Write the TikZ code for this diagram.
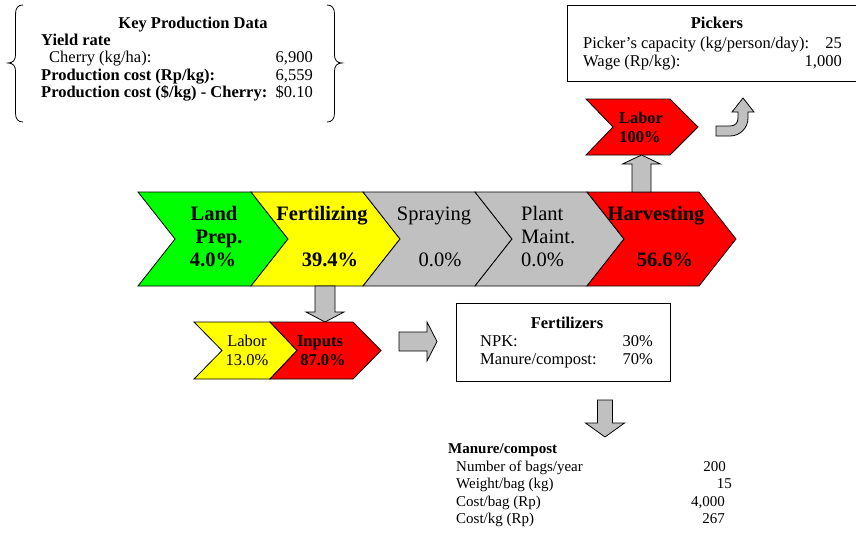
\documentclass[tikz,border=0pt]{standalone}
\usepackage{fontspec}
\setmainfont{Liberation Serif}
\definecolor{chgreen}{RGB}{0,255,0}
\definecolor{chyellow}{RGB}{255,255,0}
\definecolor{chred}{RGB}{255,0,0}
\definecolor{chgray}{RGB}{192,192,192}
\newcommand\fbig{\fontsize{20.5}{22}\selectfont}
\newcommand\fmid{\fontsize{16.5}{18}\selectfont}
\newcommand\fsml{\fontsize{15}{17}\selectfont}
\begin{document}
\begin{tikzpicture}[x=1pt,y=-1pt,
  chev/.style={draw=black,line width=0.8pt,line join=miter},
  blockarrow/.style={draw=black,line width=0.8pt,fill=chgray,line join=miter},
  databox/.style={draw=black,line width=1pt},
  txt/.style={inner sep=0pt,anchor=base},
  txtl/.style={inner sep=0pt,anchor=base west},
  txtr/.style={inner sep=0pt,anchor=base east}]
\useasboundingbox (0,0) rectangle (856,535);

% ---------- key production data (braced block) ----------
\draw[line width=0.8pt] (23,5) .. controls (18,5) and (15.5,8) .. (15.5,14) -- (15.5,55)
  .. controls (15.5,60) and (13,63) .. (8,63) .. controls (13,63) and (15.5,66) .. (15.5,71)
  -- (15.5,113) .. controls (15.5,119) and (18,122) .. (23,122);
\draw[line width=0.8pt] (327,5) .. controls (332,5) and (334.5,8) .. (334.5,14) -- (334.5,55)
  .. controls (334.5,60) and (337,63) .. (342,63) .. controls (337,63) and (334.5,66) .. (334.5,71)
  -- (334.5,113) .. controls (334.5,119) and (332,122) .. (327,122);
\node[txt]  (kpd)  at (193,29) {\fmid\bfseries Key Production Data};
\node[txtl] (yr)   at (41,46)  {\fmid\bfseries Yield rate};
\node[txtl] (ch)   at (49,63)  {\fmid Cherry (kg/ha):};
\node[txtr] (chv)  at (313,63) {\fmid 6,900};
\node[txtl] (pc)   at (41,80)  {\fmid\bfseries Production cost (Rp/kg):};
\node[txtr] (pcv)  at (313,80) {\fmid 6,559};
\node[txtl] (pcd)  at (41,97)  {\fmid\bfseries Production cost (\$/kg) - Cherry:};
\node[txtr] (pcdv) at (313,97) {\fmid \$0.10};

% ---------- pickers box ----------
\draw[databox] (567,6) rectangle (866,81);
\node[txt]  (pk)   at (717,29)   {\fmid\bfseries Pickers};
\node[txtl] (pkc)  at (583,48.5) {\fmid Picker’s capacity (kg/person/day):};
\node[txtr] (pkcv) at (842,48.5) {\fmid 25};
\node[txtl] (pkw)  at (583,66.5) {\fmid Wage (Rp/kg):};
\node[txtr] (pkwv) at (842,66.5) {\fmid 1,000};

% ---------- main value chain ----------
\draw[chev,fill=chgreen]  (138,192) -- (251,192) -- (288,239) -- (251,286) -- (138,286) -- (175,239) -- cycle;
\draw[chev,fill=chyellow] (251,192) -- (363,192) -- (400,239) -- (363,286) -- (251,286) -- (288,239) -- cycle;
\draw[chev,fill=chgray]   (363,192) -- (475,192) -- (512,239) -- (475,286) -- (363,286) -- (400,239) -- cycle;
\draw[chev,fill=chgray]   (475,192) -- (587,192) -- (624,239) -- (587,286) -- (475,286) -- (512,239) -- cycle;
\draw[chev,fill=chred]    (587,192) -- (699,192) -- (736,239) -- (699,286) -- (587,286) -- (624,239) -- cycle;

\node[txt] (lp1) at (214,220)   {\fbig\bfseries Land};
\node[txt] (lp2) at (219,243.5) {\fbig\bfseries Prep.};
\node[txt] (lp3) at (213,266)   {\fbig\bfseries 4.0\%};
\node[txt] (fe1) at (322,220)   {\fbig\bfseries Fertilizing};
\node[txt] (fe2) at (330,266)   {\fbig\bfseries 39.4\%};
\node[txt] (sp1) at (434,220)   {\fbig Spraying};
\node[txt] (sp2) at (440,266)   {\fbig 0.0\%};
\node[txtl] (pm1) at (521,220)   {\fbig Plant};
\node[txtl] (pm2) at (521,243.5) {\fbig Maint.};
\node[txtl] (pm3) at (521,266)   {\fbig 0.0\%};
\node[txt] (hv1) at (656,220)   {\fbig\bfseries Harvesting};
\node[txt] (hv2) at (665,266)   {\fbig\bfseries 56.6\%};

% ---------- harvesting labor ----------
\draw[chev,fill=chred] (586,99) -- (670,99) -- (698,127) -- (670,155) -- (586,155) -- (613,127) -- cycle;
\node[txt] (hl1) at (641,123.5) {\fmid\bfseries Labor};
\node[txt] (hl2) at (640,142.5) {\fmid\bfseries 100\%};
\coordinate (hvtop) at (641.5,192);
\coordinate (hlbot) at (641.5,155);
\draw[blockarrow] ([shift={(-9.5,0)}]hvtop) -- ([shift={(-9.5,-28)}]hvtop) -- ([shift={(-19,-28)}]hvtop)
  -- (hlbot) -- ([shift={(19,-28)}]hvtop) -- ([shift={(9.5,-28)}]hvtop) -- ([shift={(9.5,0)}]hvtop) -- cycle;

% turn-up arrow towards the pickers box
\draw[blockarrow] (716,126) -- (730,126) .. controls (735,126) and (738,123) .. (738,118) -- (738,112) -- (732,112)
  -- (743,98) -- (754,112) -- (748,112) -- (748,118) .. controls (748,128) and (740,136) .. (730,136) -- (716,136) -- cycle;

% ---------- fertilizing breakdown ----------
\coordinate (fetop) at (325,286);
\coordinate (inptop) at (325,322);
\draw[blockarrow] ([shift={(-10,0)}]fetop) -- ([shift={(-10,26)}]fetop) -- ([shift={(-19,26)}]fetop)
  -- (inptop) -- ([shift={(19,26)}]fetop) -- ([shift={(10,26)}]fetop) -- ([shift={(10,0)}]fetop) -- cycle;

\draw[chev,fill=chyellow] (194,322) -- (270,322) -- (297,350.5) -- (270,379) -- (194,379) -- (222,350.5) -- cycle;
\draw[chev,fill=chred]    (270,322) -- (353,322) -- (381,350.5) -- (353,379) -- (270,379) -- (297,350.5) -- cycle;
\node[txt] (fl1) at (247,346.5) {\fmid Labor};
\node[txt] (fl2) at (247,365)   {\fmid 13.0\%};
\node[txt] (fi1) at (320,346.5) {\fmid\bfseries Inputs};
\node[txt] (fi2) at (323,365)   {\fmid\bfseries 87.0\%};

\coordinate (rastart) at (399,341.5);
\coordinate (ratip) at (437,341.5);
\draw[blockarrow] ([shift={(0,-9.5)}]rastart) -- ([shift={(28,-9.5)}]rastart) -- ([shift={(28,-19.5)}]rastart)
  -- (ratip) -- ([shift={(28,19.5)}]rastart) -- ([shift={(28,9.5)}]rastart) -- ([shift={(0,9.5)}]rastart) -- cycle;

% ---------- fertilizers box ----------
\draw[databox] (456,303) rectangle (670,381);
\node[txt]  (fz)   at (567,328.5) {\fmid\bfseries Fertilizers};
\node[txtl] (npk)  at (480,346.5) {\fmid NPK:};
\node[txtr] (npkv) at (653,346.5) {\fmid 30\%};
\node[txtl] (mc)   at (480,364.5) {\fmid Manure/compost:};
\node[txtr] (mcv)  at (653,364.5) {\fmid 70\%};

\coordinate (fzbot) at (605,400);
\coordinate (mtop) at (605,437);
\draw[blockarrow] ([shift={(-7.5,0)}]fzbot) -- ([shift={(-7.5,23)}]fzbot) -- ([shift={(-19.5,23)}]fzbot)
  -- (mtop) -- ([shift={(19.5,23)}]fzbot) -- ([shift={(7.5,23)}]fzbot) -- ([shift={(7.5,0)}]fzbot) -- cycle;

% ---------- manure / compost table ----------
\node[txtl] (mt)  at (448,453.5) {\fsml\bfseries Manure/compost};
\node[txtl] (m1)  at (456,471)   {\fsml Number of bags/year};
\node[txtr] (m1v) at (726,471)   {\fsml 200};
\node[txtl] (m2)  at (456,488.5) {\fsml Weight/bag (kg)};
\node[txtr] (m2v) at (732,488.5) {\fsml 15};
\node[txtl] (m3)  at (456,506)   {\fsml Cost/bag (Rp)};
\node[txtr] (m3v) at (725,506)   {\fsml 4,000};
\node[txtl] (m4)  at (456,523.5) {\fsml Cost/kg (Rp)};
\node[txtr] (m4v) at (725,523.5) {\fsml 267};
\end{tikzpicture}
\end{document}
